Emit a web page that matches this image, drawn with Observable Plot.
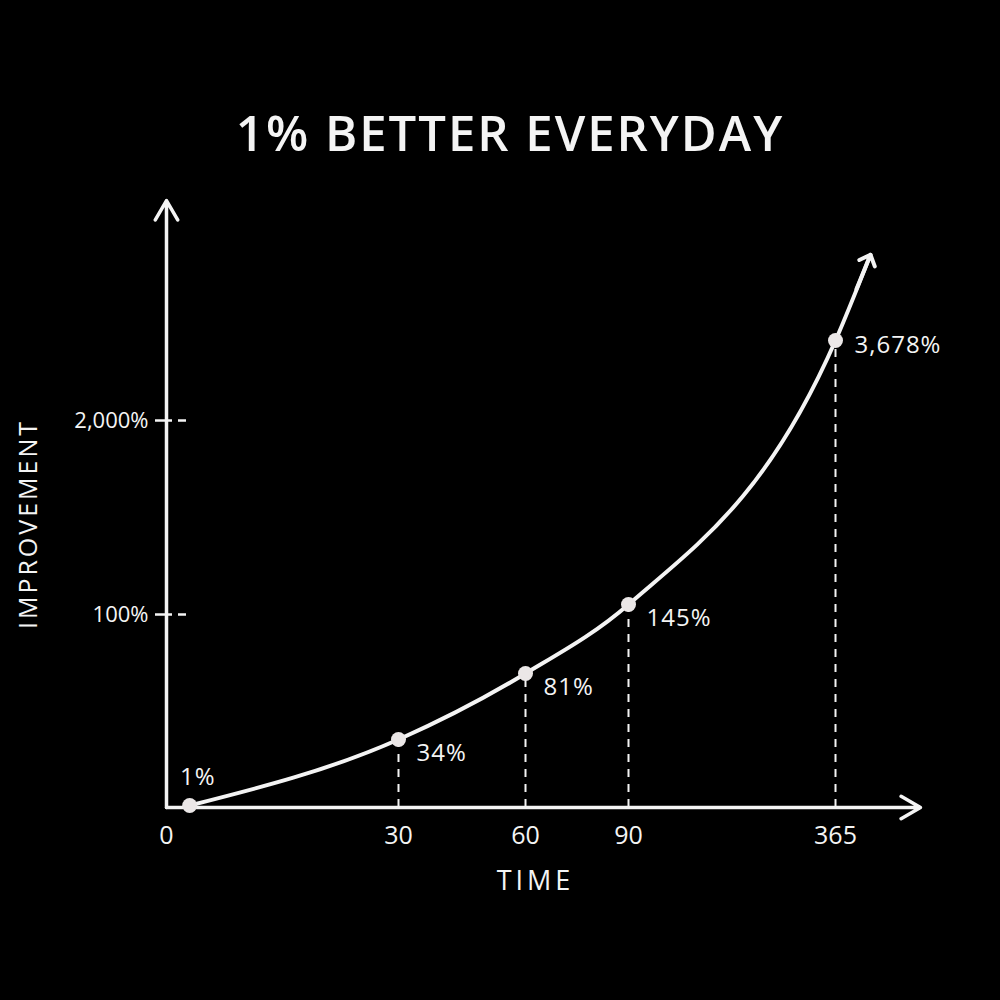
<!DOCTYPE html>
<html>
<head>
<meta charset="utf-8">
<script src="https://cdn.jsdelivr.net/npm/d3@7"></script>
<script src="https://cdn.jsdelivr.net/npm/@observablehq/plot@0.6"></script>
<style>
  html, body { margin: 0; padding: 0; background: #000; }
  body { width: 1000px; height: 1000px; overflow: hidden; font-family: "Open Sans", sans-serif; color: #f4f4f4; }
  #title { height: 190px; box-sizing: border-box; padding-top: 108px; text-align: center; font-size: 49px; font-weight: 600; letter-spacing: 2px; line-height: 1; padding-left: 20px; }
</style>
</head>
<body>
<div id="title">1% BETTER EVERYDAY</div>
<div id="chart"></div>
<script>
// datos
const days = [3, 30, 60, 90, 365];
const improvement = [1, 34, 81, 145, 3678];
const xTicks = [0, 30, 60, 90, 365];
const yTicks = [100, 2000];
const curveTip = {day: 400, pct: 5100}; // punta de la flecha de la curva

const points = days.map((d, i) => ({day: d, pct: improvement[i]}));
const last = points[points.length - 1];
const fmt = v => d3.format(",")(v) + "%";
const ink = "#f4f4f4";

// el dibujo no es lineal: escalas por tramos para que coincida con el original
const xDomain = [0, 30, 60, 90, 365, 450];
const xRange = [166, 398, 525, 628, 835, 920];
const yDomain = [0, 34, 81, 100, 145, 2000, 3678, 6000];
const yRange = [617, 549, 483, 424, 414, 230, 150, 10];

// la flecha arranca a mitad del último tramo (recto en pantalla)
const t = 0.6;
const arrowStart = {day: last.day + t * (curveTip.day - last.day), pct: last.pct + t * (curveTip.pct - last.pct)};

let chart = Plot.plot({
  width: 1000,
  height: 800,
  marginLeft: 166,
  marginRight: 80,
  marginTop: 10,
  marginBottom: 183,
  style: {background: "#000", color: ink, fontFamily: "Open Sans, sans-serif", fontSize: "22px"},
  x: {type: "linear", domain: xDomain, range: xRange},
  y: {type: "linear", domain: yDomain, range: yRange},
  marks: [
    // ejes con flechas
    Plot.arrow([0], {x1: 0, y1: 0, x2: 450, y2: 0, stroke: ink, strokeWidth: 3.5, headLength: 9.6, headAngle: 60}),
    Plot.arrow([0], {x1: 0, y1: 0, x2: 0, y2: 6000, stroke: ink, strokeWidth: 3.5, headLength: 9.6, headAngle: 60}),
    Plot.axisX({ticks: xTicks, tickSize: 0, tickPadding: 19, fontSize: 25, label: null, tickFormat: d => d}),
    Plot.axisY({ticks: yTicks, tickSize: 31, dx: 20, tickPadding: 7, fontSize: 22, label: null,
      tickFormat: fmt, stroke: ink, strokeWidth: 2.5, strokeDasharray: "8,6,17"}),
    Plot.text(["TIME"], {frameAnchor: "bottom", dx: -8, dy: 82, fontSize: 27, fill: ink}),
    Plot.text(["IMPROVEMENT"], {frameAnchor: "left", textAnchor: "middle", dx: -138, dy: 20, rotate: -90, fontSize: 25, fill: ink}),
    // líneas punteadas
    Plot.ruleX(points.slice(1), {x: "day", y1: 0, y2: "pct", stroke: ink, strokeWidth: 2, strokeDasharray: "8,7"}),
    // curva
    Plot.line(points.concat([curveTip]), {x: "day", y: "pct", curve: "monotone-x", stroke: ink, strokeWidth: 4}),
    Plot.arrow([curveTip], {x1: arrowStart.day, y1: arrowStart.pct, x2: "day", y2: "pct", stroke: ink, strokeWidth: 4, headLength: 9, headAngle: 85}),
    Plot.dot(points, {x: "day", y: "pct", r: 7.5, fill: "#ebe7e7"}),
    Plot.text(points.slice(0, 1), {x: "day", y: "pct", text: d => fmt(d.pct), dx: 8, dy: -28, fontSize: 24, fill: ink}),
    Plot.text(points.slice(1, 4), {x: "day", y: "pct", text: d => fmt(d.pct), dx: 18, dy: 14, textAnchor: "start", fontSize: 24, fill: ink}),
    Plot.text(points.slice(4), {x: "day", y: "pct", text: d => fmt(d.pct), dx: 19, dy: 5, textAnchor: "start", fontSize: 24, fill: ink})
  ]
});

// espaciado de letras (Plot.text no lo tiene)
const spacing = {"TIME": "4px", "IMPROVEMENT": "3px"};
d3.select(chart).selectAll("text").each(function() {
  const s = this.textContent;
  if (spacing[s]) this.style.letterSpacing = spacing[s];
  else if (s.endsWith("%") && !yTicks.map(fmt).includes(s)) this.style.letterSpacing = "1px";
});

d3.select('#chart').append(() => chart);
</script>
</body>
</html>
